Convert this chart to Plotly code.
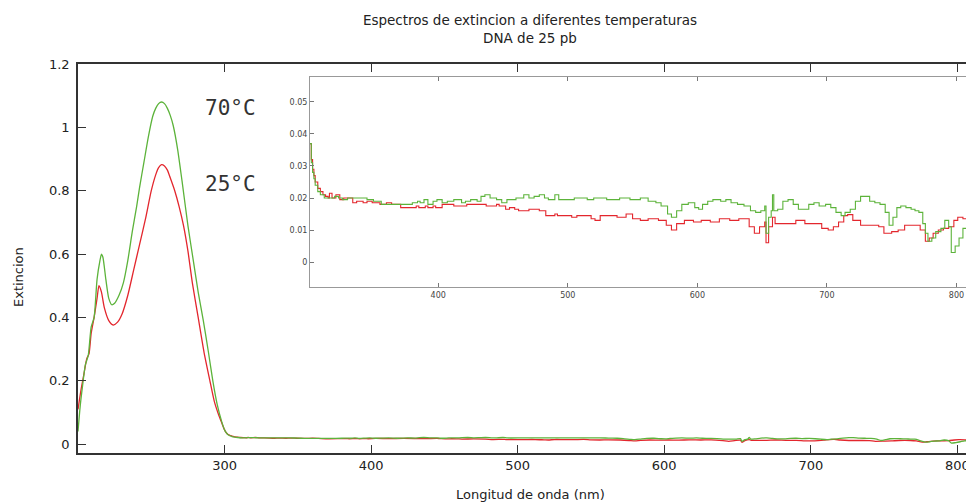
import plotly.graph_objects as go

# ---------------------------
# Data: UV region (main plot)
# ---------------------------
uv_nm_25 = [200, 202, 204, 206, 207.5, 209, 211, 213, 214.3, 216, 218, 221, 224, 227, 230,
            234, 238, 242, 246, 250, 253, 255, 257, 259, 261, 263, 266, 269, 272, 275,
            278, 282, 286, 290, 293, 296, 298, 300]
uv_abs_25 = [0.11, 0.17, 0.22, 0.27, 0.285, 0.35, 0.40, 0.46, 0.50, 0.48, 0.43, 0.39, 0.376, 0.385, 0.41,
             0.47, 0.55, 0.63, 0.71, 0.80, 0.85, 0.873, 0.882, 0.878, 0.865, 0.84, 0.80, 0.75, 0.69, 0.61,
             0.51, 0.40, 0.29, 0.20, 0.135, 0.092, 0.068, 0.045]

uv_nm_70 = [200, 201.5, 203, 205, 207, 209, 211, 213, 215, 216, 217, 219, 221, 223, 225,
            228, 231, 234, 237, 240, 242, 245, 248, 251, 253, 255, 257, 259, 261, 263,
            265, 268, 271, 275, 279, 282, 285.5, 289, 292, 295, 298, 300]
uv_abs_70 = [0.04, 0.12, 0.18, 0.25, 0.28, 0.37, 0.40, 0.52, 0.58, 0.60, 0.59, 0.52, 0.46, 0.44, 0.445,
             0.47, 0.51, 0.58, 0.67, 0.75, 0.81, 0.89, 0.97, 1.035, 1.06, 1.075, 1.08, 1.075, 1.06, 1.037,
             1.005, 0.93, 0.83, 0.69, 0.57, 0.48, 0.39, 0.29, 0.20, 0.125, 0.072, 0.045]

# ---------------------------
# Data: visible region (inset, stepped readings)
# ---------------------------
vis_nm_25 = [301, 302, 303, 304, 305, 307, 309, 311, 313, 315, 316, 318, 321, 324, 327, 334, 337,
             342, 345, 349, 355, 360, 364, 371, 383, 385, 390, 392, 396, 398, 403, 412, 422, 437,
             445, 447, 452, 455, 459, 462, 470, 478, 483, 490, 492, 503, 507, 512, 518, 521, 525,
             530, 538, 545, 550, 556, 562, 570, 576, 580, 584, 590, 597, 603, 610, 617, 625, 632,
             640, 644, 648, 652, 653, 655, 658, 660, 670, 676, 683, 690, 696, 701, 705, 709, 713,
             716, 720, 726, 735, 740, 744, 750, 755, 760, 768, 772, 776, 779, 782, 786, 790, 794,
             798, 801, 805, 808, 810, 812]
vis_abs_25 = [0.037, 0.032, 0.029, 0.027, 0.025, 0.023, 0.022, 0.021, 0.0205, 0.020, 0.0215, 0.020,
              0.021, 0.0195, 0.020, 0.0185, 0.019, 0.0185, 0.019, 0.0185, 0.018, 0.0185, 0.018,
              0.017, 0.0175, 0.017, 0.0175, 0.017, 0.0175, 0.017, 0.018, 0.0175, 0.018, 0.0175,
              0.018, 0.0175, 0.0165, 0.017, 0.0165, 0.016, 0.0165, 0.016, 0.0145, 0.015, 0.0145,
              0.014, 0.0145, 0.0145, 0.0135, 0.013, 0.0145, 0.0145, 0.014, 0.015, 0.0135, 0.013,
              0.0135, 0.013, 0.0115, 0.010, 0.012, 0.013, 0.0125, 0.013, 0.0125, 0.0135, 0.013,
              0.0135, 0.011, 0.009, 0.011, 0.0125, 0.006, 0.011, 0.014, 0.012, 0.012, 0.013, 0.012,
              0.012, 0.0105, 0.010, 0.011, 0.0125, 0.0145, 0.0148, 0.013, 0.0115, 0.0115, 0.011,
              0.009, 0.0095, 0.010, 0.0115, 0.0115, 0.010, 0.0065, 0.0075, 0.009, 0.010, 0.0105,
              0.011, 0.013, 0.014, 0.0135, 0.012, 0.0105, 0.0115]

vis_nm_70 = [301, 302, 303, 304, 305, 307, 309, 312, 320, 323, 326, 330, 345, 350, 356, 367, 372,
             380, 384, 386, 389, 392, 396, 399, 403, 407, 412, 418, 421, 425, 430, 433, 436, 440,
             445, 449, 453, 460, 466, 470, 474, 478, 482, 485, 490, 493, 500, 505, 515, 520, 530,
             540, 548, 556, 562, 568, 572, 577, 580, 584, 588, 593, 598, 601, 604, 608, 612, 618,
             622, 626, 631, 636, 641, 645, 649, 652, 653, 655, 657, 658, 659, 662, 666, 670, 674,
             678, 682, 686, 690, 694, 699, 703, 707, 711, 714, 718, 722, 726, 729, 733, 737, 741,
             745, 748, 751, 754, 757, 761, 765, 768, 771, 774, 776, 778, 781, 784, 788, 791, 794,
             796, 799, 802, 805, 808, 810, 812]
vis_abs_70 = [0.037, 0.031, 0.028, 0.026, 0.024, 0.022, 0.021, 0.020, 0.0205, 0.020, 0.0195, 0.020,
              0.0195, 0.019, 0.018, 0.018, 0.018, 0.0185, 0.019, 0.0185, 0.0195, 0.018, 0.019,
              0.0195, 0.0185, 0.019, 0.0195, 0.0185, 0.019, 0.0195, 0.019, 0.0205, 0.021, 0.020,
              0.0195, 0.0185, 0.0195, 0.020, 0.021, 0.020, 0.0205, 0.021, 0.020, 0.0195, 0.021,
              0.0195, 0.0195, 0.020, 0.0195, 0.020, 0.0195, 0.020, 0.0195, 0.020, 0.019, 0.0185,
              0.0175, 0.015, 0.014, 0.016, 0.018, 0.0185, 0.017, 0.0165, 0.018, 0.019, 0.0195,
              0.019, 0.0195, 0.0185, 0.018, 0.0175, 0.016, 0.0155, 0.016, 0.0175, 0.009, 0.014,
              0.016, 0.021, 0.016, 0.0165, 0.019, 0.0195, 0.018, 0.0165, 0.0165, 0.018, 0.0185,
              0.0175, 0.018, 0.017, 0.0155, 0.0145, 0.0155, 0.0165, 0.019, 0.0205, 0.0205, 0.019,
              0.0185, 0.018, 0.0155, 0.0115, 0.014, 0.017, 0.0175, 0.017, 0.0165, 0.016, 0.0155,
              0.012, 0.009, 0.0065, 0.0075, 0.0095, 0.0105, 0.013, 0.011, 0.003, 0.005, 0.0075,
              0.0105, 0.0095, 0.001, 0.004]

main_xticks = [300, 400, 500, 600, 700, 800]
main_yticks = [0, 0.2, 0.4, 0.6, 0.8, 1, 1.2]
inset_xticks = [400, 500, 600, 700, 800]
inset_yticks = [0, 0.01, 0.02, 0.03, 0.04, 0.05]

RED = '#e3262d'
GREEN = '#5cb33a'
FONT = 'DejaVu Sans'

# page body adds an 8px offset, so the figure is 8px smaller and margins shifted
OFF = 8
W, H = 974 - OFF, 504 - OFF
PL, PT, PR, PB = 78, 64, 972, 453          # plot area in window pixels
PW, PH = PR - PL, PB - PT


def px(x):
    return (x - PL) / PW


def py(y):
    return (PB - y) / PH


fig = go.Figure()

# Main spectra
fig.add_trace(go.Scatter(x=uv_nm_25 + vis_nm_25, y=uv_abs_25 + vis_abs_25, mode='lines',
                         line=dict(color=RED, width=1.3, shape='spline', smoothing=0.6),
                         xaxis='x', yaxis='y'))
fig.add_trace(go.Scatter(x=uv_nm_70 + vis_nm_70, y=uv_abs_70 + vis_abs_70, mode='lines',
                         line=dict(color=GREEN, width=1.3, shape='spline', smoothing=0.6),
                         xaxis='x', yaxis='y'))

# Inset (zoom of baseline)
fig.add_trace(go.Scatter(x=vis_nm_25, y=vis_abs_25, mode='lines', line_shape='hv',
                         line=dict(color=RED, width=1.1), xaxis='x2', yaxis='y2'))
fig.add_trace(go.Scatter(x=vis_nm_70, y=vis_abs_70, mode='lines', line_shape='hv',
                         line=dict(color=GREEN, width=1.1), xaxis='x2', yaxis='y2'))

fig.update_layout(
    width=W, height=H,
    margin=dict(l=PL - OFF, r=W - (PR - OFF), t=PT - OFF, b=H - (PB - OFF), autoexpand=False),
    paper_bgcolor='white', plot_bgcolor='white',
    showlegend=False,
    font=dict(family=FONT, color='#222'),
    title=dict(text='Espectros de extincion a diferentes temperaturas<br>DNA de 25 pb',
               x=(530 - OFF) / W, xanchor='center', y=1 - (25 - OFF) / H, yanchor='middle',
               font=dict(size=13.5, color='#222')),
    xaxis=dict(range=[200, 810], domain=[0, 1], tickvals=main_xticks, ticks='inside', ticklen=8,
               showline=True, linecolor='#333', linewidth=1.5, mirror='ticks', showgrid=False,
               zeroline=False, tickcolor='#333', tickfont=dict(size=13, color='#222'), automargin=False),
    yaxis=dict(range=[-0.028, 1.2], domain=[0, 1], tickvals=main_yticks, ticks='inside', ticklen=8,
               showline=True, linecolor='#333', linewidth=1.5, showgrid=False, zeroline=False,
               tickcolor='#333', tickfont=dict(size=13, color='#222'), ticklabelstandoff=4,
               automargin=False),
    xaxis2=dict(range=[301, 812], domain=[px(310), 1], anchor='y2', tickvals=inset_xticks,
                ticks='inside', ticklen=4, showline=True, linecolor='#999', linewidth=1, mirror='allticks',
                showgrid=False, zeroline=False, tickcolor='#777', tickfont=dict(size=8, color='#444'),
                automargin=False),
    yaxis2=dict(range=[-0.0078, 0.0578], domain=[py(287), py(77)], anchor='x2',
                tickvals=inset_yticks, ticks='inside', ticklen=4, showline=True, linecolor='#999',
                linewidth=1, mirror='allticks', showgrid=False, zeroline=False, tickcolor='#777',
                tickfont=dict(size=8, color='#444'), automargin=False),
)

# Inset background
fig.add_shape(type='rect', xref='x2 domain', yref='y2 domain', x0=0, x1=1, y0=0, y1=1,
              fillcolor='white', line=dict(width=0), layer='below')

# Labels
fig.add_annotation(text='70°C', xref='paper', yref='paper', x=px(230), y=py(108),
                   xanchor='center', yanchor='middle', showarrow=False,
                   font=dict(family='DejaVu Sans Mono', size=21, color='#333'))
fig.add_annotation(text='25°C', xref='paper', yref='paper', x=px(230), y=py(184),
                   xanchor='center', yanchor='middle', showarrow=False,
                   font=dict(family='DejaVu Sans Mono', size=21, color='#333'))
fig.add_annotation(text='Longitud de onda (nm)', xref='paper', yref='paper', x=px(530), y=py(494),
                   xanchor='center', yanchor='middle', showarrow=False,
                   font=dict(size=13, color='#222'))
fig.add_annotation(text='Extincion', xref='paper', yref='paper', x=px(18), y=py(277),
                   xanchor='center', yanchor='middle', textangle=-90, showarrow=False,
                   font=dict(size=13, color='#222'))

fig.write_html("out.html")
